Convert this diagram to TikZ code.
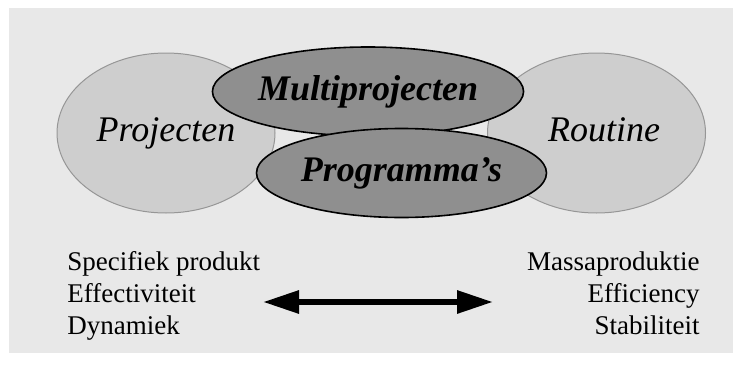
\documentclass[tikz,border=0pt]{standalone}
\usepackage{fontspec}
\setmainfont{Liberation Serif}
\usetikzlibrary{shapes.geometric, arrows.meta, positioning}
\definecolor{bgGray}{RGB}{232,232,232}
\definecolor{blobLight}{RGB}{206,206,206}
\definecolor{blobEdge}{RGB}{150,150,150}
\definecolor{blobDark}{RGB}{143,143,143}

\begin{document}
\begin{tikzpicture}[
    x=0.5pt, y=-0.5pt,
    outerBlob/.style={
        ellipse,
        draw=blobEdge,
        fill=blobLight,
        line width=0.5pt,
        inner sep=0pt,
        minimum width=109pt,
        minimum height=80pt,
        font=\fontsize{18}{20}\selectfont\itshape,
        text height=12.6pt,
        text depth=4pt
    },
    innerBlob/.style={
        ellipse,
        draw=black,
        fill=blobDark,
        line width=0.8pt,
        inner sep=0pt,
        minimum width=145pt,
        minimum height=44.5pt,
        font=\fontsize{18}{20}\selectfont\bfseries\itshape,
        text height=12.6pt,
        text depth=4pt
    },
    column/.style={inner sep=0pt, font=\fontsize{13.5}{16}\selectfont},
    bothArrow/.style={{Triangle[length=18pt, width=11pt]}-{Triangle[length=18pt, width=11pt]}, line width=3pt}
]
    % Frame
    \useasboundingbox (0,0) rectangle (733,364);
    \fill[bgGray] (9,8) rectangle (733,353);

    % Outer ellipses
    \node[outerBlob] (projecten) at (166,133) {Projecten};
    \node[outerBlob] (routine) at (596.5,133) {\hspace*{7.5pt}Routine};

    % Overlapping ellipses in the middle
    \node[innerBlob] (multi) at (368,91.5) {Multiprojecten};
    \node[innerBlob] (programmas) at (401.5,173) {Programma's};

    % Characteristics
    \node[column, align=left, anchor=north west] (specs) at (67,251.5) {Specifiek produkt\\Effectiviteit\\Dynamiek};
    \node[column, align=right, anchor=north east] (mass) at (700,251.5) {Massaproduktie\\Efficiency\\Stabiliteit};

    % Range arrow
    \coordinate (arrowL) at (263,302);
    \coordinate (arrowR) at (493,302);
    \draw[bothArrow] (arrowL) -- (arrowR);
\end{tikzpicture}
\end{document}
